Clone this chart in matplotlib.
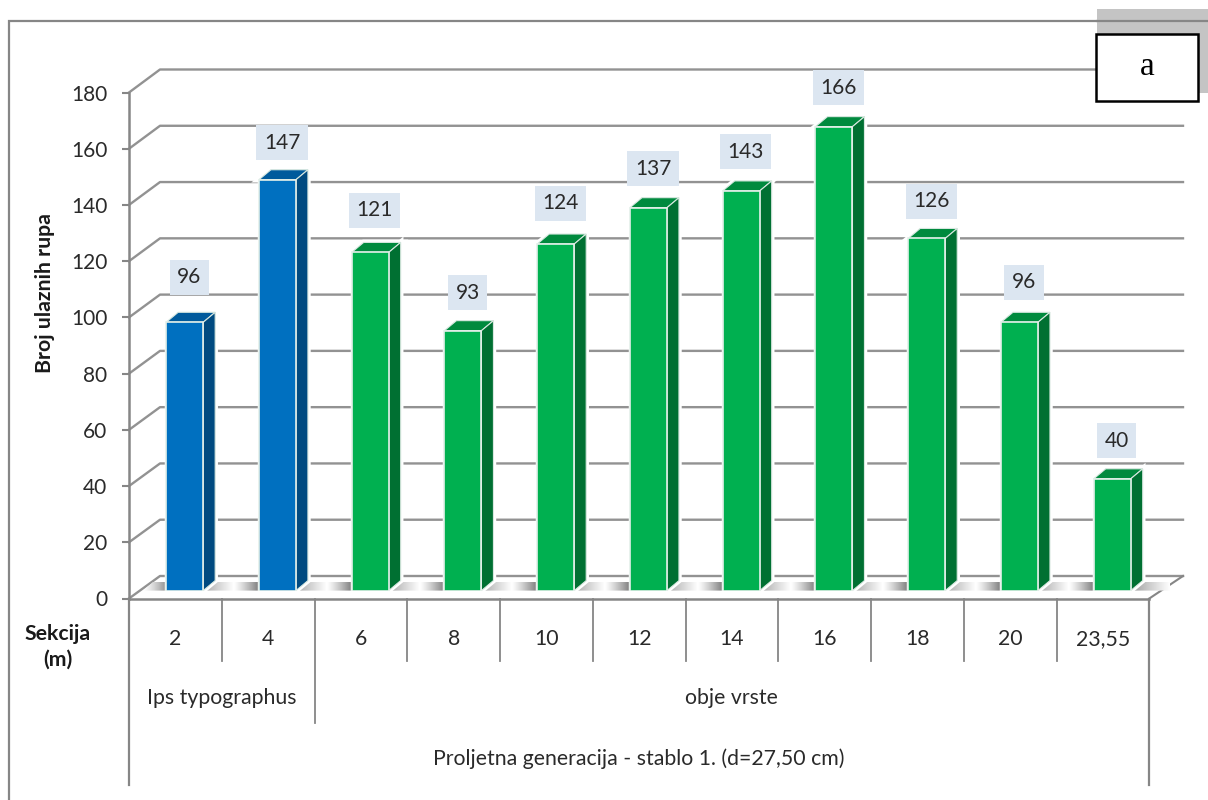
import numpy as np
import matplotlib
matplotlib.use("Agg")
import matplotlib.pyplot as plt
from matplotlib.patches import Polygon, Rectangle
from matplotlib.colors import LinearSegmentedColormap

# ---- data ----
sections = ["2", "4", "6", "8", "10", "12", "14", "16", "18", "20", "23,55"]
holes = [96, 147, 121, 93, 124, 137, 143, 166, 126, 96, 40]
species_groups = ["Ips typographus", "obje vrste"]
group_sizes = [2, 9]
y_ticks = list(range(0, 181, 20))
y_title = "Broj ulaznih rupa"
x_title = "Sekcija\n(m)"
outer_label = "Proljetna generacija - stablo 1. (d=27,50 cm)"
panel = "a"

# ---- style ----
W, H = 1208, 800
FONT = "Lato"
plt.rcParams["font.family"] = [FONT, "DejaVu Sans"]
GREY = "#868686"
TXT = "#2a2a2a"
FACE = {"Ips typographus": ("#0070C0", "#005A9C", "#004A80"),
        "obje vrste": ("#00B050", "#008A3E", "#007032")}
label_lift = [45, 37, 42, 38, 41, 39, 39, 39, 37, 40, 38]   # px above bar top
X0, X1 = 129, 1149.3
FRONT_0, FRONT_180 = 598.5, 92.5
BACK_X0, BACK_X1 = 160, 1183
BACK_0, BACK_180 = 576, 69.5
BAR_BASE, BAR_SCALE = 590.6, 2.795
BAR_W_PX, DEPTH_X, DEPTH_Y = 37, 12, 10
BAR_SHIFT_PX = 9.3


def box(l, top, r, bottom):
    return [l / W, 1 - bottom / H, (r - l) / W, (bottom - top) / H]


fig = plt.figure(figsize=(W / 100, H / 100), dpi=100, facecolor="white")

# --- background layer in pixel coordinates: frame, walls, floor
bg = fig.add_axes([0, 0, 1, 1], zorder=0)
bg.set_xlim(0, W); bg.set_ylim(H, 0); bg.axis("off")
bg.plot([9, 9, W], [H, 21, 21], color=GREY, lw=1.6, solid_joinstyle="miter")
for t in y_ticks:
    yb = BACK_0 + (BACK_180 - BACK_0) * t / 180
    yf = FRONT_0 + (FRONT_180 - FRONT_0) * t / 180
    bg.plot([X0, BACK_X0, BACK_X1], [yf, yb, yb], color=GREY, lw=1.7, alpha=0.9)
bg.plot([X1, BACK_X1], [FRONT_0, BACK_0], color=GREY, lw=1.5)

# floor shadows between the bars
cw = (X1 - X0) / len(sections)
shade = LinearSegmentedColormap.from_list("s", ["#ffffff", "#707070"])
fl_top, fl_bot = 582, BAR_BASE
lefts = [143] + [X0 + cw * (i + .5) + BAR_SHIFT_PX + BAR_W_PX / 2 for i in range(len(sections))]
rights = [X0 + cw * (i + .5) + BAR_SHIFT_PX - BAR_W_PX / 2 for i in range(len(sections))] + [1170]
for k, (l, r) in enumerate(zip(lefts, rights)):
    t = np.linspace(0, 1, 80)
    if k == 0:
        g = t ** 1.3 * 0.8
    elif k == len(lefts) - 1:
        g = (1 - t) ** 1.1 * 0.7
    else:
        g = np.where(t < .55, (1 - t / .55) * .6, ((t - .55) / .45) ** 1.2 * .9)
    im = bg.imshow(g[None, :], extent=(l, r, fl_bot, fl_top), aspect="auto",
                   cmap=shade, vmin=0, vmax=1, zorder=2)
    poly = Polygon([(l, fl_bot), (l + 10, fl_top), (r, fl_top), (r, fl_bot)],
                   transform=bg.transData, fc="none", ec="none")
    bg.add_patch(poly)
    im.set_clip_path(poly)
bg.set_xlim(0, W); bg.set_ylim(H, 0)

# --- front axis with ticks and category table
ax = fig.add_axes(box(X0, FRONT_180, X1, FRONT_0), zorder=1, facecolor="none")
ax.set_xlim(0, len(sections)); ax.set_ylim(0, 180)
for s in ("top", "right"):
    ax.spines[s].set_visible(False)
for s in ("left", "bottom"):
    ax.spines[s].set_color(GREY); ax.spines[s].set_linewidth(1.8)
ax.set_yticks(y_ticks)
ax.tick_params(axis="y", length=5, width=1.5, color=GREY, pad=10.5,
               labelsize=15, labelcolor=TXT)
ax.set_xticks(np.arange(len(sections)) + .5, sections)
ax.tick_params(axis="x", length=0, pad=22, labelsize=15.3, labelcolor=TXT)
for lab in ax.get_xticklabels() + ax.get_yticklabels():
    lab.set_family(FONT)

trans = ax.get_xaxis_transform()
to_axes_y = lambda py: (FRONT_0 - py) / (FRONT_0 - FRONT_180)
edges = np.cumsum([0] + group_sizes)
for i in range(1, len(sections)):
    bottom = 723 if i in edges else 661
    ax.plot([i, i], [0, to_axes_y(bottom)], transform=trans, color=GREY,
            lw=1.3, clip_on=False)
for x in (0, len(sections)):
    ax.plot([x, x], [0, to_axes_y(785)], transform=trans, color=GREY, lw=1.6, clip_on=False)
for name, a, b in zip(species_groups, edges[:-1], edges[1:]):
    ax.text((a + b) / 2, to_axes_y(698.5), name, transform=trans, ha="center", va="center",
            fontsize=15.3, color=TXT)
ax.text(len(sections) / 2, to_axes_y(758.5), outer_label, transform=trans, ha="center",
        va="center", fontsize=15.3, color=TXT)

# --- bars
bars = fig.add_axes(box(X0, BAR_BASE - 180 * BAR_SCALE, X1, BAR_BASE), zorder=2, facecolor="none")
bars.set_xlim(0, len(sections)); bars.set_ylim(0, 180); bars.axis("off")
dx = DEPTH_X / cw
dy = DEPTH_Y / BAR_SCALE
w = BAR_W_PX / cw
shift = BAR_SHIFT_PX / cw
centers = np.arange(len(sections)) + .5 + shift
groups = [g for g, n in zip(species_groups, group_sizes) for _ in range(n)]
for xc, v, g, lift in zip(centers, holes, groups, label_lift):
    front, top, side = FACE[g]
    l, r = xc - w / 2, xc + w / 2
    top_pts = [(l, v), (l + dx, v + dy), (r + dx, v + dy), (r, v)]
    side_pts = [(r, 0), (r + dx, dy), (r + dx, v + dy), (r, v)]
    for pts in (top_pts, side_pts):
        bars.add_patch(Polygon(pts, fc="white", ec="white", lw=4, zorder=1, clip_on=False))
    bars.add_patch(Rectangle((l, 0), w, v, fc="white", ec="white", lw=2.5, zorder=1, clip_on=False))
    bars.add_patch(Polygon(top_pts, fc=top, ec="#d8e8e0", lw=.8, zorder=2, clip_on=False))
    bars.add_patch(Polygon(side_pts, fc=side, ec="#d8e8e0", lw=.8, zorder=2, clip_on=False))
    bars.bar(xc, v, width=w, color=front, edgecolor="#e4f0ea", linewidth=1.2, zorder=3)
    bars.annotate(str(v), (xc, v), xytext=(4.6 * .72, lift * .72), textcoords="offset points",
                  ha="center", va="center", fontsize=15, color=TXT, zorder=4,
                  bbox=dict(boxstyle="square,pad=0.36", fc="#DCE6F1", ec="none"),
                  annotation_clip=False)

# --- top layer: titles and panel letter
top = fig.add_axes([0, 0, 1, 1], zorder=3, facecolor="none")
top.set_xlim(0, W); top.set_ylim(H, 0); top.axis("off")
top.text(45, 293, y_title, rotation=90, ha="center", va="center", fontsize=15.3,
         fontweight="bold", color="#1a1a1a")
top.text(58, 647, x_title, ha="center", va="center", fontsize=15.3, fontweight="bold",
         color="#1a1a1a", linespacing=1.35)
top.add_patch(Rectangle((1097, 9), 111, 84, fc="#C4C4C4", ec="none", zorder=1))
top.plot([1097, W], [21, 21], color=GREY, lw=1.6, zorder=2)
top.add_patch(Rectangle((1096, 34), 102, 67, fc="white", ec="black", lw=1.8, zorder=3))
top.text(1147, 75, panel, ha="center", va="baseline", fontsize=24, color="black",
         family="Liberation Serif", zorder=4)

fig.savefig("out.png", dpi=100, facecolor="white")
